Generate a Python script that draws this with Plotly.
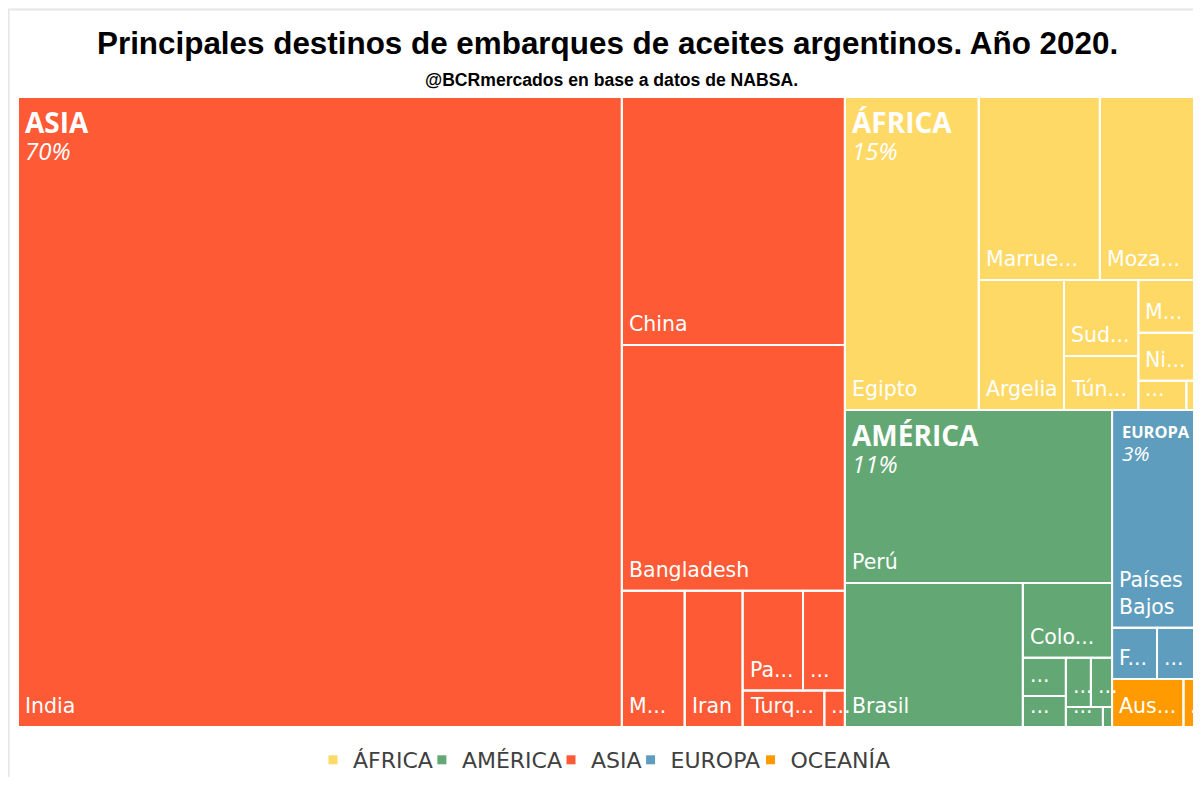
import plotly.graph_objects as go

# ------------------------------------------------------------------
# Data: share (%) of Argentine vegetable-oil shipments by destination, 2020
# (labels written exactly as they are shown in the chart)
# ------------------------------------------------------------------
continents = ["ÁFRICA", "AMÉRICA", "ASIA", "EUROPA", "OCEANÍA"]
continent_colors = ["#FFD966", "#63A874", "#FF5A36", "#5F9DBE", "#FF9A00"]

africa_labels = ["Egipto", "Marrue...", "Moza...", "Argelia", "Sud...", "Tún...", "M...", "Ni...", "...", "..."]
africa_values = [5.64, 2.98, 2.44, 1.49, 0.76, 0.54, 0.43, 0.39, 0.19, 0.05]

america_labels = ["Perú", "Brasil", "Colo...", "...", "...", "...", "...", "...", "..."]
america_values = [6.21, 3.45, 0.90, 0.22, 0.18, 0.165, 0.14, 0.10, 0.025]

asia_labels = ["India", "China", "Bangladesh", "M...", "Iran", "Pa...", "...", "Turq...", "..."]
asia_values = [51.14, 7.43, 7.37, 1.15, 1.06, 0.81, 0.56, 0.40, 0.10]

europa_labels = ["Países Bajos", "F...", "..."]
europa_values = [2.54, 0.31, 0.29]

oceania_labels = ["Aus...", "..."]
oceania_values = [0.46, 0.10]

title_text = "Principales destinos de embarques de aceites argentinos. Año 2020."
subtitle_text = "@BCRmercados en base a datos de NABSA."

children = {
    "ÁFRICA": (africa_labels, africa_values),
    "AMÉRICA": (america_labels, america_values),
    "ASIA": (asia_labels, asia_values),
    "EUROPA": (europa_labels, europa_values),
    "OCEANÍA": (oceania_labels, oceania_values),
}

# ------------------------------------------------------------------
# Layout settings (the page shows the figure 8 px in from the window corner)
# ------------------------------------------------------------------
OFF = 8
FIG_W, FIG_H = 1185, 769
M_L, M_T = 18 - OFF, 97 - OFF
PW_LAYOUT, PH = 1181, 630     # full treemap area (its right end runs past the window)
PW = FIG_W - M_L              # visible part of it
M_R = 0
M_B = FIG_H - M_T - PH
X_STRETCH = 1.18              # aspect correction so the tiling follows the reference one
LEAF_FONT = 20.5
INSET = 5
LEGEND_FONT = 22

# DejaVu Sans advance widths (em) of the capitals used in the legend
DJV_W = {"A": .684, "Á": .684, "C": .698, "E": .632, "É": .632, "F": .575, "I": .295,
         "Í": .295, "M": .863, "N": .748, "O": .787, "P": .603, "R": .695, "S": .635,
         "U": .732}


def px_x(wx):   # window pixel -> paper x
    return (wx - OFF - M_L) / PW


def px_y(wy):   # window pixel -> paper y
    return (M_T + PH - (wy - OFF)) / PH


def squarify(values, x0, y0, x1, y1, sx=1.0):
    """Squarified treemap tiling (rows along the short side), y grows downwards."""
    rects = []
    vals = list(values)
    n = len(vals)
    total = float(sum(vals))
    i0 = 0
    while i0 < n:
        dx = (x1 - x0) * sx
        dy = (y1 - y0)
        s = vals[i0]
        mn = mx = s
        i1 = i0 + 1
        alpha = max(dy / dx, dx / dy) / total
        beta = s * s * alpha
        best = max(mx / beta, beta / mn)
        while i1 < n:
            v = vals[i1]
            s2 = s + v
            mn2, mx2 = min(mn, v), max(mx, v)
            beta = s2 * s2 * alpha
            r = max(mx2 / beta, beta / mn2)
            if r > best:
                break
            s, mn, mx, best = s2, mn2, mx2, r
            i1 += 1
        row = vals[i0:i1]
        if dx < dy:   # row across the top
            h = (y1 - y0) * s / total
            cx = x0
            for v in row:
                w = (x1 - x0) * v / s
                rects.append((cx, y0, cx + w, y0 + h))
                cx += w
            y0 += h
        else:         # column on the left
            w = (x1 - x0) * s / total
            cy = y0
            for v in row:
                hh = (y1 - y0) * v / s
                rects.append((x0, cy, x0 + w, cy + hh))
                cy += hh
            x0 += w
        total -= s
        i0 = i1
    return rects


totals = {c: sum(children[c][1]) for c in continents}
grand = sum(totals.values())
order = sorted(continents, key=lambda c: -totals[c])
top_rects = dict(zip(order, squarify([totals[c] for c in order], 0, 0, PW_LAYOUT, PH, X_STRETCH)))

fig = go.Figure()
annotations = []

for cont, color in zip(continents, continent_colors):
    labels, values = children[cont]
    idx = sorted(range(len(values)), key=lambda i: -values[i])
    cx0, cy0, cx1, cy1 = top_rects[cont]
    rects = squarify([values[i] for i in idx], cx0, cy0, cx1, cy1, X_STRETCH)
    xs, ys = [], []
    for i, (x0, y0, x1, y1) in zip(idx, rects):
        xs += [x0, x1, x1, x0, x0, None]
        ys += [y0, y0, y1, y1, y0, None]
        w, h = x1 - x0, y1 - y0
        if w >= 14 and h >= 14:
            txt = labels[i]
            if " " in txt and 0.6 * LEAF_FONT * len(txt) > w - 2 * INSET:
                txt = txt.replace(" ", "<br>")
            annotations.append(dict(
                x=x0 + INSET, y=y1 - 7, xref="x", yref="y", text=txt,
                showarrow=False, xanchor="left", yanchor="bottom", align="left",
                font=dict(family="DejaVu Sans", size=LEAF_FONT, color="white")))
    fig.add_trace(go.Scatter(
        x=xs, y=ys, mode="lines", fill="toself", fillcolor=color,
        line=dict(color="white", width=2), showlegend=False,
        hoverinfo="text", text=cont, hoveron="fills"))

    # continent header (name + share) as one two-line label
    w, h = cx1 - cx0, cy1 - cy0
    if h >= 80:
        ns = min(28.0, (w - 20) / (0.68 * len(cont)))
        ps = min(24.0, ns + 4)
        pct = round(100 * totals[cont] / grand)
        base = 14 + 0.75 * ns                 # first baseline below the cell top
        line_size = (5 + 0.9 * ps) / 1.3       # controls the line spacing
        inset = 5 if ns >= 28 else 8
        annotations.append(dict(
            x=cx0 + inset, y=cy0 + base - 1.07 * ns - 1, xref="x", yref="y",
            text="<b><span style='font-size:%.1fpx'>%s</span></b><br>"
                 "<i><span style='font-size:%.1fpx'>%d%%</span></i>" % (ns, cont, ps, pct),
            showarrow=False, xanchor="left", yanchor="top", align="left",
            font=dict(family="Open Sans", size=line_size, color="white")))

# legend entries (entry widths follow the text so the spacing matches the reference)
for k, (cont, color) in enumerate(zip(continents, continent_colors)):
    tw = LEGEND_FONT * sum(DJV_W.get(ch, 0.6) for ch in cont)
    lw = tw + 6 if k == len(continents) - 1 else tw - 16
    fig.add_trace(go.Scatter(
        x=[None], y=[None], mode="markers", name=cont, legendwidth=max(1, lw),
        marker=dict(symbol="square", size=9, color=color)))

# titles
annotations.append(dict(
    x=px_x(607), y=px_y(43), xref="paper", yref="paper", text="<b>%s</b>" % title_text,
    showarrow=False, xanchor="center", yanchor="middle",
    font=dict(family="Liberation Sans", size=31.4, color="black")))
annotations.append(dict(
    x=px_x(611), y=px_y(80), xref="paper", yref="paper", text="<b>%s</b>" % subtitle_text,
    showarrow=False, xanchor="center", yanchor="middle",
    font=dict(family="Liberation Sans", size=17.6, color="black")))

fig.update_layout(
    width=FIG_W, height=FIG_H, autosize=False,
    margin=dict(l=M_L, r=M_R, t=M_T, b=M_B, pad=0, autoexpand=False),
    paper_bgcolor="white", plot_bgcolor="white",
    xaxis=dict(range=[0, PW], visible=False, fixedrange=True),
    yaxis=dict(range=[PH, 0], visible=False, fixedrange=True),
    showlegend=True,
    legend=dict(orientation="h", x=px_x(313), xanchor="left",
                y=px_y(760), yanchor="middle",
                font=dict(family="DejaVu Sans", size=LEGEND_FONT, color="#404040"),
                itemwidth=30, bgcolor="rgba(0,0,0,0)"),
    annotations=annotations,
    shapes=[dict(type="rect", xref="paper", yref="paper",
                 x0=px_x(8.5), x1=1.05, y0=-0.2, y1=px_y(9.5),
                 line=dict(color="#E6E6E6", width=2), fillcolor="rgba(0,0,0,0)",
                 layer="below")],
)

fig.write_html("out.html")
